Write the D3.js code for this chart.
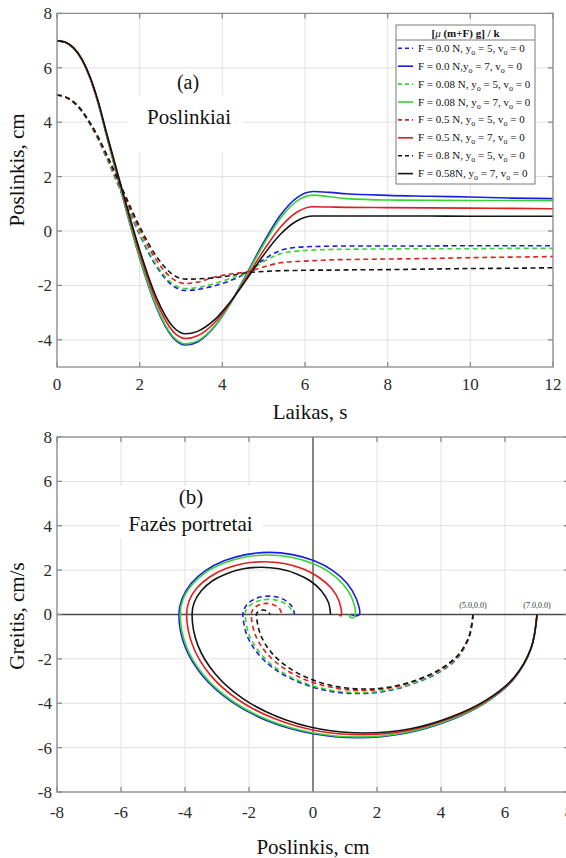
<!DOCTYPE html>
<html><head><meta charset="utf-8">
<script src="https://cdn.jsdelivr.net/npm/d3@7"></script>
<style>
body{margin:0;background:#fff}
svg{display:block}
text{font-family:"Liberation Serif","Times New Roman",serif}
</style>
</head><body>
<svg id="c" width="566" height="858"></svg>
<script>
// ---------- DATA ----------
const timeS = [0,0.2,0.4,0.6,0.8,1.0,1.2,1.6,2.0,2.4,2.8,3.12,3.4,3.8,4.2,4.6,5.0,5.4,5.8,6.2,6.6,7,8,9,10,11,12];
const yBlueDash  = [5.0,4.93,4.73,4.39,3.92,3.35,2.68,1.26,-0.14,-1.29,-2.01,-2.19,-2.15,-2.02,-1.82,-1.53,-1.05,-0.72,-0.60,-0.57,-0.56,-0.55,-0.55,-0.55,-0.54,-0.54,-0.54];
const yBlue      = [7.0,6.94,6.72,6.30,5.62,4.68,3.50,1.18,-1.00,-2.79,-3.91,-4.19,-4.08,-3.54,-2.65,-1.54,-0.41,0.57,1.22,1.45,1.42,1.37,1.31,1.28,1.25,1.21,1.19];
const yGreenDash = [5.0,4.93,4.74,4.40,3.93,3.37,2.70,1.30,-0.09,-1.23,-1.94,-2.12,-2.08,-1.94,-1.74,-1.52,-1.12,-0.84,-0.74,-0.70,-0.68,-0.67,-0.66,-0.65,-0.65,-0.64,-0.64];
const yGreen     = [7.0,6.94,6.72,6.30,5.62,4.68,3.51,1.20,-0.97,-2.75,-3.87,-4.15,-4.04,-3.52,-2.65,-1.58,-0.49,0.46,1.10,1.32,1.26,1.19,1.14,1.13,1.12,1.12,1.11];
const yRedDash   = [5.0,4.93,4.74,4.42,3.96,3.41,2.77,1.40,0.05,-1.06,-1.76,-1.93,-1.88,-1.70,-1.58,-1.50,-1.32,-1.17,-1.12,-1.09,-1.06,-1.05,-1.03,-1.01,-0.98,-0.96,-0.94];
const yRed       = [7.0,6.94,6.73,6.31,5.64,4.71,3.56,1.31,-0.82,-2.58,-3.68,-3.95,-3.85,-3.39,-2.62,-1.68,-0.71,0.13,0.69,0.89,0.88,0.87,0.86,0.85,0.84,0.83,0.82];
const yBlackDash = [5.0,4.93,4.75,4.43,3.98,3.45,2.82,1.48,0.16,-0.92,-1.60,-1.77,-1.76,-1.72,-1.64,-1.53,-1.49,-1.46,-1.45,-1.44,-1.44,-1.43,-1.42,-1.40,-1.38,-1.37,-1.35];
const yBlack     = [7.0,6.94,6.74,6.33,5.67,4.75,3.60,1.39,-0.70,-2.43,-3.51,-3.78,-3.69,-3.28,-2.59,-1.75,-0.88,-0.13,0.37,0.55,0.55,0.55,0.55,0.55,0.54,0.54,0.54];

// phase portrait: [position cm, velocity cm/s]
const phBlueDash = [[5,0],[4.88,-1.0],[4.52,-1.95],[3.95,-2.6],[3.20,-3.08],[2.34,-3.44],[1.405,-3.56],[0.47,-3.44],[-0.39,-3.08],[-1.14,-2.52],[-1.71,-1.78],[-2.07,-0.92],[-2.19,0],[-2.16,0.21],[-2.08,0.42],[-1.95,0.59],[-1.79,0.72],[-1.59,0.80],[-1.385,0.83],[-1.18,0.80],[-0.98,0.72],[-0.82,0.59],[-0.69,0.42],[-0.61,0.21],[-0.58,0]];
const phBlue = [[7,0],[6.81,-1.55],[6.25,-2.95],[5.36,-4.0],[4.2,-4.81],[2.85,-5.36],[1.405,-5.55],[-0.04,-5.36],[-1.39,-4.81],[-2.55,-3.92],[-3.44,-2.78],[-4.0,-1.44],[-4.19,0],[-4.09,0.72],[-3.81,1.40],[-3.36,1.98],[-2.78,2.42],[-2.10,2.70],[-1.37,2.80],[-0.64,2.70],[0.04,2.42],[0.62,1.98],[1.07,1.40],[1.35,0.72],[1.45,0],[1.36,-0.06],[1.19,0]];
const phGreenDash = [[5,0],[4.88,-1.0],[4.52,-1.92],[3.96,-2.56],[3.22,-3.05],[2.36,-3.40],[1.44,-3.52],[0.52,-3.40],[-0.34,-3.05],[-1.08,-2.49],[-1.64,-1.76],[-2.0,-0.91],[-2.12,0],[-2.10,0.18],[-2.02,0.34],[-1.90,0.48],[-1.75,0.59],[-1.57,0.66],[-1.38,0.68],[-1.19,0.66],[-1.01,0.59],[-0.86,0.48],[-0.74,0.34],[-0.67,0.18],[-0.64,0]];
const phGreen = [[7,0],[6.81,-1.55],[6.25,-2.93],[5.37,-3.98],[4.21,-4.78],[2.87,-5.33],[1.425,-5.52],[-0.02,-5.33],[-1.36,-4.78],[-2.52,-3.90],[-3.40,-2.76],[-3.96,-1.43],[-4.15,0],[-4.06,0.69],[-3.78,1.34],[-3.35,1.90],[-2.78,2.32],[-2.12,2.59],[-1.415,2.68],[-0.71,2.59],[-0.05,2.32],[0.52,1.90],[0.95,1.34],[1.23,0.69],[1.32,0],[1.26,-0.15],[1.17,-0.12],[1.12,0]];
const phRedDash = [[5,0],[4.88,-0.96],[4.54,-1.84],[3.99,-2.48],[3.27,-2.96],[2.43,-3.30],[1.535,-3.42],[0.64,-3.30],[-0.20,-2.96],[-0.92,-2.42],[-1.47,-1.71],[-1.81,-0.89],[-1.93,0],[-1.91,0.13],[-1.87,0.25],[-1.79,0.35],[-1.69,0.43],[-1.58,0.48],[-1.455,0.50],[-1.33,0.48],[-1.22,0.43],[-1.12,0.35],[-1.04,0.25],[-1.0,0.13],[-0.98,0]];
const phRed = [[7,0],[6.81,-1.52],[6.27,-2.88],[5.40,-3.91],[4.26,-4.69],[2.94,-5.24],[1.525,-5.42],[0.11,-5.24],[-1.21,-4.69],[-2.35,-3.83],[-3.22,-2.71],[-3.76,-1.40],[-3.95,0],[-3.87,0.62],[-3.63,1.19],[-3.24,1.68],[-2.74,2.06],[-2.16,2.30],[-1.53,2.38],[-0.90,2.30],[-0.32,2.06],[0.18,1.68],[0.57,1.19],[0.81,0.62],[0.89,0],[0.86,-0.06],[0.82,0]];
const phBlackDash = [[5,0],[4.89,-0.95],[4.55,-1.80],[4.01,-2.43],[3.31,-2.91],[2.49,-3.25],[1.615,-3.36],[0.74,-3.25],[-0.08,-2.91],[-0.78,-2.38],[-1.32,-1.68],[-1.65,-0.87],[-1.77,0],[-1.76,0.05],[-1.71,0.14],[-1.61,0.19],[-1.56,0.20],[-1.51,0.19],[-1.41,0.14],[-1.36,0.05],[-1.35,0]];
const phBlack = [[7,0],[6.82,-1.50],[6.28,-2.84],[5.42,-3.85],[4.31,-4.62],[3.01,-5.16],[1.61,-5.34],[0.21,-5.16],[-1.09,-4.62],[-2.20,-3.78],[-3.06,-2.67],[-3.60,-1.38],[-3.78,0],[-3.71,0.55],[-3.49,1.07],[-3.15,1.51],[-2.70,1.84],[-2.18,2.06],[-1.615,2.13],[-1.06,2.06],[-0.53,1.84],[-0.08,1.51],[0.26,1.07],[0.48,0.55],[0.55,0]];

const legendForce = ["F = 0.0 N, ","F = 0.0 N,","F = 0.08 N,  ","F = 0.08 N, ","F = 0.5 N, ","F = 0.5 N, ","F = 0.8 N,  ","F = 0.58N, "];
const legendY0 = ["5","7","5","7","5","7","5","7"];
const startLabels = ["(5.0,0.0)","(7.0,0.0)"];
const startPos = [5,7];

const xTicksTop = [0,2,4,6,8,10,12];
const yTicksTop = [-4,-2,0,2,4,6,8];
const xTicksBot = [-8,-6,-4,-2,0,2,4,6,8];
const yTicksBot = [-8,-6,-4,-2,0,2,4,6,8];

// ---------- STYLE ----------
const COL = {blue:"#1c1ce0", green:"#35d435", red:"#e01e1e", black:"#141414"};
const series = [
  {y:yBlueDash, ph:phBlueDash, c:COL.blue, dash:true},
  {y:yBlue, ph:phBlue, c:COL.blue, dash:false},
  {y:yGreenDash, ph:phGreenDash, c:COL.green, dash:true},
  {y:yGreen, ph:phGreen, c:COL.green, dash:false},
  {y:yRedDash, ph:phRedDash, c:COL.red, dash:true},
  {y:yRed, ph:phRed, c:COL.red, dash:false},
  {y:yBlackDash, ph:phBlackDash, c:COL.black, dash:true},
  {y:yBlack, ph:phBlack, c:COL.black, dash:false}
];
const DASH = "5,3.5";
const svg = d3.select("#c");
const gridC = "#e2e2e2", axC = "#8c8c8c", txtC = "#2b2b2b";

function frame(x, y, xt, yt) {
  const [x0,x1] = x.range(), [y0,y1] = y.range();
  const g = svg.append("g");
  xt.forEach(t => g.append("line").attr("x1",x(t)).attr("x2",x(t)).attr("y1",y1).attr("y2",y0).attr("stroke",gridC).attr("stroke-width",1));
  yt.forEach(t => g.append("line").attr("x1",x0).attr("x2",x1).attr("y1",y(t)).attr("y2",y(t)).attr("stroke",gridC).attr("stroke-width",1));
  return g;
}
function box(x, y, xt, yt) {
  const [x0,x1] = x.range(), [y0,y1] = y.range();
  const g = svg.append("g").attr("stroke",axC).attr("stroke-width",1.3).attr("fill","none");
  g.append("rect").attr("x",x0).attr("y",y1).attr("width",x1-x0).attr("height",y0-y1);
  const L = 5;
  xt.forEach(t => {
    g.append("line").attr("x1",x(t)).attr("x2",x(t)).attr("y1",y0).attr("y2",y0-L);
    g.append("line").attr("x1",x(t)).attr("x2",x(t)).attr("y1",y1).attr("y2",y1+L);
  });
  yt.forEach(t => {
    g.append("line").attr("x1",x0).attr("x2",x0+L).attr("y1",y(t)).attr("y2",y(t));
    g.append("line").attr("x1",x1).attr("x2",x1-L).attr("y1",y(t)).attr("y2",y(t));
  });
}
function tickLabels(x, y, xt, yt, xBase) {
  const [x0] = x.range();
  xt.forEach(t => svg.append("text").attr("x",x(t)).attr("y",xBase).attr("text-anchor","middle")
    .attr("font-size",17).attr("fill",txtC).text(t));
  yt.forEach(t => svg.append("text").attr("x",x0-5).attr("y",y(t)).attr("dy","0.35em").attr("text-anchor","end")
    .attr("font-size",17).attr("fill",txtC).text(t));
}

// ---------- TOP PANEL ----------
const xT = d3.scaleLinear().domain([0,12]).range([57,553]);
const yT = d3.scaleLinear().domain([-5,8]).range([367,13.4]);
frame(xT, yT, xTicksTop, yTicksTop);
svg.append("rect").attr("x",127).attr("y",95).attr("width",116).attr("height",57).attr("fill","#fff");
const lineT = d3.line().x((d,i)=>xT(timeS[i])).y(d=>yT(d)).curve(d3.curveMonotoneX);
series.forEach(s => svg.append("path").attr("d", lineT(s.y)).attr("fill","none")
  .attr("stroke",s.c).attr("stroke-width",1.6).attr("stroke-dasharray", s.dash?DASH:null));
box(xT, yT, xTicksTop, yTicksTop);
tickLabels(xT, yT, xTicksTop, yTicksTop, 390);
svg.append("text").attr("x",188).attr("y",89).attr("text-anchor","middle").attr("font-size",20).attr("fill","#111").text("(a)");
svg.append("text").attr("x",189).attr("y",124).attr("text-anchor","middle").attr("font-size",21).attr("fill","#111").text("Poslinkiai");
svg.append("text").attr("x",310).attr("y",419).attr("text-anchor","middle").attr("font-size",21).attr("fill","#111").text("Laikas, s");
svg.append("text").attr("transform","translate(24,170) rotate(-90)").attr("text-anchor","middle").attr("font-size",21).attr("fill","#111").text("Poslinkis, cm");

// legend
const lg = svg.append("g");
lg.append("rect").attr("x",396).attr("y",25).attr("width",139).attr("height",159).attr("fill","#fff").attr("stroke","#7a7a7a").attr("stroke-width",1);
lg.append("line").attr("x1",396).attr("x2",535).attr("y1",40).attr("y2",40).attr("stroke","#7a7a7a").attr("stroke-width",1);
const tt = lg.append("text").attr("x",465.5).attr("y",36.5).attr("text-anchor","middle").attr("font-size",11).attr("font-weight","bold").attr("fill","#111");
tt.append("tspan").text("[");
tt.append("tspan").attr("font-style","italic").attr("font-weight","normal").text("\u03bc");
tt.append("tspan").text(" (m+F) g] / k");
series.forEach((s,i) => {
  const yy = 48.3 + i*17.9;
  lg.append("line").attr("x1",398).attr("x2",413).attr("y1",yy).attr("y2",yy).attr("stroke",s.c)
    .attr("stroke-width",1.6).attr("stroke-dasharray", s.dash?"4,3":null);
  const t = lg.append("text").attr("x",418).attr("y",yy+3.5).attr("font-size",11).attr("fill","#111");
  t.append("tspan").text(legendForce[i] + "y");
  t.append("tspan").attr("dy",3).attr("font-size",8).text("o");
  t.append("tspan").attr("dy",-3).text(" = " + legendY0[i] + ", v");
  t.append("tspan").attr("dy",3).attr("font-size",8).text("o");
  t.append("tspan").attr("dy",-3).text(" = 0");
});

// ---------- BOTTOM PANEL ----------
const xB = d3.scaleLinear().domain([-8,8]).range([57,569]);
const yB = d3.scaleLinear().domain([-8,8]).range([792,437]);
frame(xB, yB, xTicksBot, yTicksBot);
svg.append("rect").attr("x",120).attr("y",486).attr("width",142).attr("height",52).attr("fill","#fff");
svg.append("line").attr("x1",xB(-8)).attr("x2",xB(8)).attr("y1",yB(0)).attr("y2",yB(0)).attr("stroke","#4a4a4a").attr("stroke-width",1.3);
svg.append("line").attr("x1",xB(0)).attr("x2",xB(0)).attr("y1",yB(-8)).attr("y2",yB(8)).attr("stroke","#4a4a4a").attr("stroke-width",1.3);
const lineB = d3.line().x(d=>xB(d[0])).y(d=>yB(d[1])).curve(d3.curveCatmullRom.alpha(0.5));
series.forEach(s => svg.append("path").attr("d", lineB(s.ph)).attr("fill","none")
  .attr("stroke",s.c).attr("stroke-width",1.6).attr("stroke-dasharray", s.dash?DASH:null));
box(xB, yB, xTicksBot, yTicksBot);
tickLabels(xB, yB, xTicksBot, yTicksBot, 818);
startLabels.forEach((l,i) => svg.append("text").attr("x",xB(startPos[i])).attr("y",yB(0)-7).attr("text-anchor","middle")
  .attr("font-family","Liberation Sans, Arial, sans-serif").attr("font-size",8).attr("fill","#333").text(l));
svg.append("text").attr("x",191).attr("y",504).attr("text-anchor","middle").attr("font-size",21).attr("fill","#111").text("(b)");
svg.append("text").attr("x",190.5).attr("y",531).attr("text-anchor","middle").attr("font-size",21).attr("fill","#111").text("Faz\u0117s portretai");
svg.append("text").attr("x",313).attr("y",854).attr("text-anchor","middle").attr("font-size",21).attr("fill","#111").text("Poslinkis, cm");
svg.append("text").attr("transform","translate(24,616) rotate(-90)").attr("text-anchor","middle").attr("font-size",21).attr("fill","#111").text("Greitis, cm/s");
</script>
</body></html>
